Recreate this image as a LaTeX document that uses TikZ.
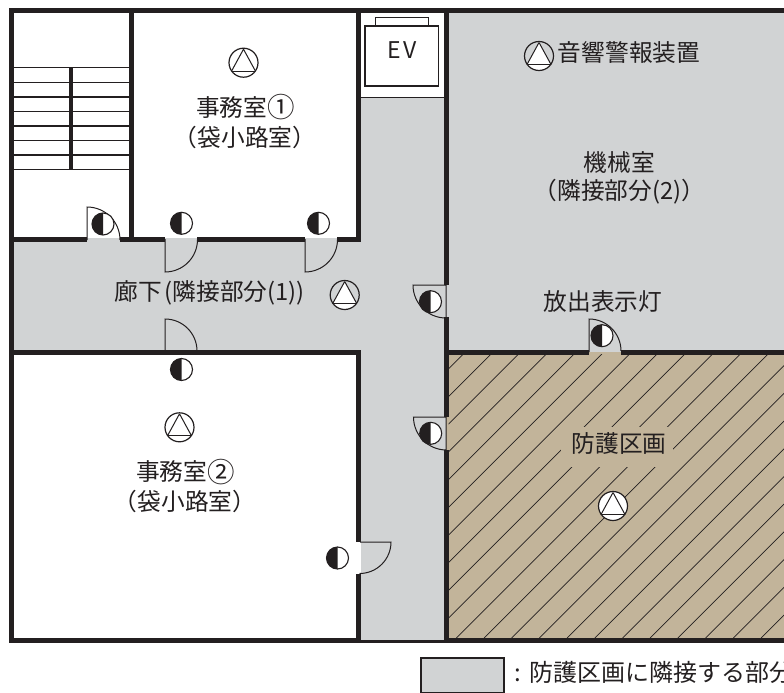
\documentclass[tikz,border=0pt]{standalone}
\usepackage{fontspec}
\setmainfont{Noto Sans CJK JP}
\definecolor{ink}{HTML}{231F20}
\definecolor{hall}{HTML}{D1D3D4}
\definecolor{zone}{HTML}{C2B49A}
\newcommand{\lbl}[1]{\fontsize{23.7}{26}\selectfont #1}
\newcommand{\bignum}[1]{\raisebox{-1.3pt}{\fontsize{27.5}{26}\selectfont #1}}
\newcommand{\bellsym}[4]{%
  % x, y, disc colour, side colour
  \begin{scope}[shift={(#1,#2)}]
    \fill[#3] (0,0) circle (14.5);
    \begin{scope}
      \clip (0,0) circle (14.5);
      \fill[#4] (-15,-15) rectangle (15,8.5);
      \fill[white] (0,-13.5) -- (-12,8.5) -- (12,8.5) -- cycle;
      \draw[ink,line width=1.2pt] (-15,8.5) -- (15,8.5);
    \end{scope}
    \draw[ink,line width=1pt,line join=round] (0,-13.5) -- (-12,8.5) (0,-13.5) -- (12,8.5);
    \draw[ink,line width=1.2pt] (0,0) circle (14.5);
  \end{scope}}
\newcommand{\halfsym}[2]{%
  \fill[white] (#1,#2) circle (11);
  \fill[ink] (#1,#2-11) arc[start angle=-90,delta angle=-180,radius=11] -- cycle;
  \draw[ink,line width=1.1pt] (#1,#2) circle (11);}
\tikzset{
  wall/.style={ink,line width=5pt,line cap=butt},
  thinwall/.style={ink,line width=2.5pt},
  tread/.style={ink,line width=1.1pt},
  swing/.style={ink,line width=1pt,line join=miter},
  evline/.style={ink,line width=1.6pt},
  hatchline/.style={ink,line width=0.7pt},
  room/.style={text=ink,align=center,inner sep=0pt,font=\lbl}
}
\begin{document}
\begin{tikzpicture}[x=1pt,y=-1pt]
\useasboundingbox (0,0) rectangle (784,693);
\begin{scope}
\clip (0,0) rectangle (784,693);
% floors
\fill[hall] (11,11) rectangle (784,640);
\fill[white] (11,11) rectangle (358,238);
\fill[white] (358,11) rectangle (446,97);
\fill[white] (11,352) rectangle (360.5,640);
\fill[zone] (446,352) rectangle (784,640);
% hatching
\begin{scope}
  \clip (448.5,354) rectangle (784,638);
  \foreach \k in {0,...,22} {
    \pgfmathsetmacro{\c}{817.3+27.7*\k}
    \draw[hatchline] (\c-354,354) -- (\c-638,638);
  }
  \fill[zone] (561,427) rectangle (673,467);
\end{scope}
% stairs
\foreach \y in {67.7,82.5,111.3,140.7,169.5} \draw[tread] (14,\y) -- (129,\y);
\foreach \y in {96.7,126,155} \draw[tread,line width=1.8pt] (14,\y) -- (129,\y);
\draw[ink,line width=4.5pt] (71,67.7) -- (71,169.5);
% lift
\draw[ink,line width=1pt] (358,97) -- (446,97);
\draw[evline,line width=1pt] (375,26) -- (375,18) -- (428,18) -- (428,26);
\draw[evline] (364.7,26) rectangle (438.3,86);
\node[text=ink,inner sep=0pt,font=\fontsize{23}{26}\selectfont] (ev) at (401.7,50) {E\kern2.5pt V};
% walls
\draw[wall] (9,11) -- (784,11);
\draw[wall] (11.5,8.5) -- (11.5,643);
\draw[wall] (9,640.5) -- (361,640.5);
\draw[thinwall] (361,641.7) -- (446,641.7);
\draw[wall] (446,640.5) -- (784,640.5);
\draw[wall] (131.5,11) -- (131.5,239.5);
\draw[wall] (358.5,11) -- (358.5,242);
\draw[wall] (358.5,352) -- (358.5,542);
\draw[wall] (358.5,574) -- (358.5,643);
\draw[wall] (11.5,239.5) -- (87,239.5) (120,239.5) -- (165,239.5) (197,239.5) -- (305,239.5) (337,239.5) -- (361,239.5);
\draw[wall] (9,352) -- (361,352);
\draw[wall] (446,11) -- (446,285);
\draw[wall] (446,317) -- (446,417);
\draw[wall] (446,450) -- (446,643);
\draw[wall] (446,352) -- (589,352) (621,352) -- (784,352);
% doors
\draw[swing] (87,240) -- (87,207) arc[start angle=-90,end angle=0,radius=33];
\draw[swing] (165,239) -- (165,272) arc[start angle=90,end angle=0,radius=32.5];
\draw[swing] (305,239) -- (305,272) arc[start angle=90,end angle=0,radius=32.5];
\draw[swing] (165,350) -- (165,319) arc[start angle=-90,end angle=0,radius=32];
\draw[swing] (446,317) -- (446,285) -- (413,285) arc[start angle=180,end angle=90,radius=33];
\draw[swing] (446,450) -- (446,417) -- (413.5,417) arc[start angle=180,end angle=90,radius=33];
\draw[swing] (360,542) -- (391,542) arc[start angle=0,end angle=90,radius=31.5];
\draw[swing] (589,352) -- (589,319) arc[start angle=-90,end angle=0,radius=32];
% detectors
\halfsym{103}{224}
\halfsym{181.5}{223.3}
\halfsym{318.5}{223.3}
\halfsym{181.5}{369.5}
\halfsym{337.5}{558}
\halfsym{430.5}{301.7}
\halfsym{430.7}{433.3}
\halfsym{602}{335.7}
% sounders
\bellsym{243.5}{62.7}{white}{white}
\bellsym{344.7}{295}{white}{hall}
\bellsym{179.5}{427.3}{white}{white}
\bellsym{539}{56}{white}{hall}
\bellsym{613}{506}{white}{white}
% labels
\node[room] (r1a) at (245.5,107) {事務室\bignum{①}};
\node[room] (r1b) at (245,137) {（袋小路室）};
\node[room] (r2a) at (185.5,471.7) {事務室\bignum{②}};
\node[room] (r2b) at (185,501.7) {（袋小路室）};
\node[room] (cor) at (209.5,293) {廊下\kern3pt(隣接部分(1))};
\node[room] (m1) at (619.5,163) {機械室};
\node[room] (m2) at (619.5,192) {（隣接部分(2)）};
\node[room] (lamp) at (603,301.7) {放出表示灯};
\node[room] (zn) at (619,444) {防護区画};
\node[room] (snd) at (629,52.5) {音響警報装置};
% legend
\draw[ink,line width=1.2pt,fill=hall] (421,658) rectangle (504,692.5);
\node[room,anchor=west,font=\fontsize{24}{26}\selectfont] (lg) at (514,672) {\makebox[15pt][l]{:}防護区画に隣接する部分};
\end{scope}
\end{tikzpicture}
\end{document}
